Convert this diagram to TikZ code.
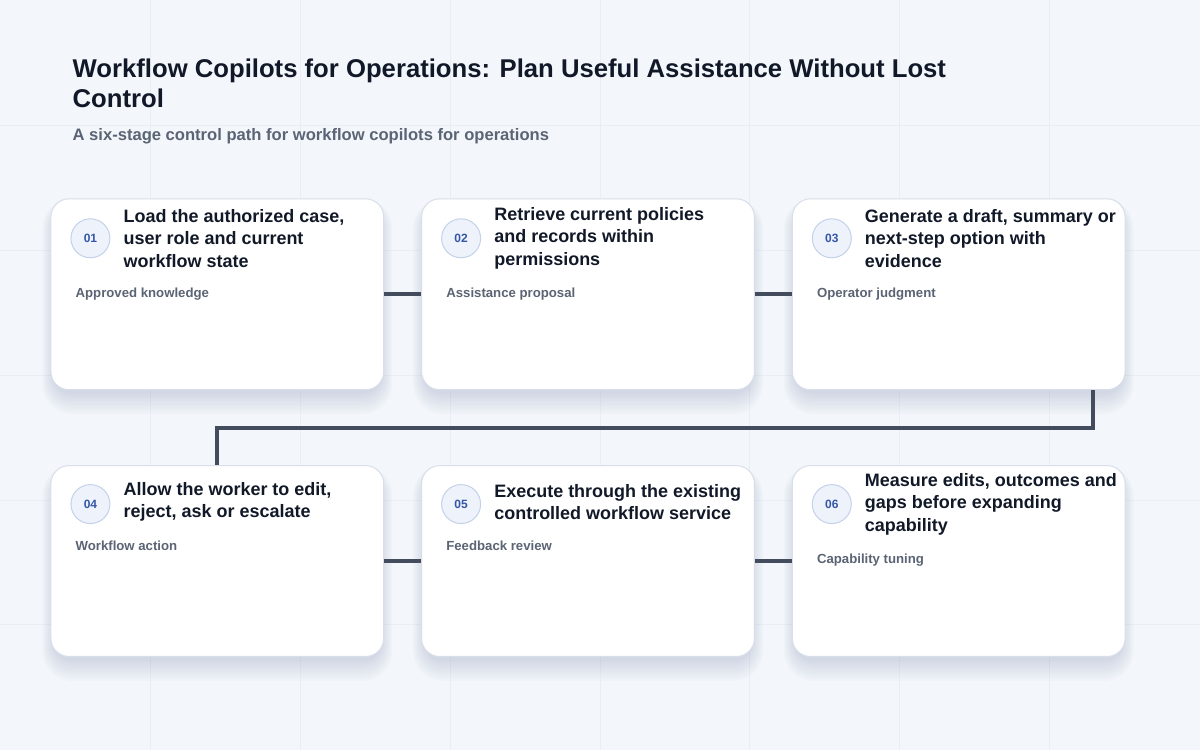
\documentclass[tikz,border=0pt]{standalone}
\usepackage{fontspec}
\setmainfont{Liberation Sans}
\usetikzlibrary{calc}
\definecolor{bgc}{HTML}{F3F6FB}
\definecolor{gridc}{HTML}{EAEEF4}
\definecolor{cardborder}{HTML}{D8DFEA}
\definecolor{titlec}{HTML}{111827}
\definecolor{subc}{HTML}{5B6474}
\definecolor{linec}{HTML}{434C5D}
\definecolor{badgefill}{HTML}{EEF3FB}
\definecolor{badgeborder}{HTML}{C3D1EA}
\definecolor{badgetext}{HTML}{3556A6}
\definecolor{shadowc}{HTML}{7F8FAE}
\pgfdeclarelayer{bg}
\pgfsetlayers{bg,main}
\tikzset{
  card/.style={draw=cardborder, line width=1pt, fill=white, rounded corners=18pt,
    minimum width=333pt, minimum height=191pt, inner sep=0pt, anchor=north west},
  badge/.style={circle, draw=badgeborder, line width=1pt, fill=badgefill, minimum size=39pt, inner sep=0pt,
    font=\fontsize{12}{14}\selectfont\bfseries, text=badgetext},
  steptitle/.style={anchor=west, align=left, inner sep=0pt, text=titlec,
    font=\fontsize{18}{22.3}\selectfont\bfseries},
  sublabel/.style={anchor=west, inner sep=0pt, text=subc, font=\fontsize{13.2}{15}\selectfont\bfseries},
  conn/.style={draw=linec, line width=4pt}
}
\begin{document}
\begin{tikzpicture}[x=1pt,y=-1pt]
\begin{pgfonlayer}{bg}
\fill[bgc] (0,0) rectangle (1200,750);
\foreach \gx in {150,300,...,1050} {\draw[gridc, line width=1pt] (\gx,0) -- (\gx,750);}
\foreach \gy in {125,250,...,625} {\draw[gridc, line width=1pt] (0,\gy) -- (1200,\gy);}
\end{pgfonlayer}
\useasboundingbox (0,0) rectangle (1200,750);

\node[anchor=west, inner sep=0pt, text=titlec, align=left, font=\fontsize{25.7}{30}\selectfont\bfseries] (title) at (72,83)
  {Workflow Copilots for Operations: Plan Useful Assistance Without Lost\\Control};
\node[anchor=west, inner sep=0pt, text=subc, font=\fontsize{16.6}{19}\selectfont\bfseries] (subtitle) at (72,136)
  {A six-stage control path for workflow copilots for operations};

% cards
\node[card] (c1) at (50,198) {};
\node[card] (c2) at (421,198) {};
\node[card] (c3) at (792,198) {};
\node[card] (c4) at (50,465) {};
\node[card] (c5) at (421,465) {};
\node[card] (c6) at (792,465) {};

% soft shadows
\begin{pgfonlayer}{bg}
\foreach \c in {c1,c2,c3,c4,c5,c6} {
  \foreach \i in {1,...,10} {
    \fill[shadowc, opacity=0.028, rounded corners={18pt+1.2pt*\i}]
      ($(\c.north west)+(-1.2*\i+4,-1.2*\i+12)$) rectangle ($(\c.south east)+(1.2*\i-4,2.2*\i+2)$);
  }
}
\end{pgfonlayer}

% connectors
\draw[conn] (c1.east) -- (c2.west);
\draw[conn] (c2.east) -- (c3.west);
\coordinate (s3) at ($(c3.south east)+(-33,0)$);
\draw[conn] (s3) -- ($(s3)+(0,38)$) -| (c4.north);
\draw[conn] (c4.east) -- (c5.west);
\draw[conn] (c5.east) -- (c6.west);

% card 1
\node[badge] (b1) at (90,238) {01};
\node[steptitle] (t1) at (123,238) {Load the authorized case,\\user role and current\\workflow state};
\node[sublabel] (l1) at (75,294) {Approved knowledge};
% card 2
\node[badge] (b2) at (461,238) {02};
\node[steptitle] (t2) at (494,238) {Retrieve current policies\\and records within\\permissions};
\node[sublabel] (l2) at (446,294) {Assistance proposal};
% card 3
\node[badge] (b3) at (832,238) {03};
\node[steptitle] (t3) at (865,238) {Generate a draft, summary or\\next-step option with\\evidence};
\node[sublabel] (l3) at (817,294) {Operator judgment};
% card 4
\node[badge] (b4) at (90,504) {04};
\node[steptitle] (t4) at (123,502) {Allow the worker to edit,\\reject, ask or escalate};
\node[sublabel] (l4) at (75,546) {Workflow action};
% card 5
\node[badge] (b5) at (461,504) {05};
\node[steptitle] (t5) at (494,502) {Execute through the existing\\controlled workflow service};
\node[sublabel] (l5) at (446,546) {Feedback review};
% card 6
\node[badge] (b6) at (832,504) {06};
\node[steptitle] (t6) at (865,504) {Measure edits, outcomes and\\gaps before expanding\\capability};
\node[sublabel] (l6) at (817,560) {Capability tuning};
\end{tikzpicture}
\end{document}
